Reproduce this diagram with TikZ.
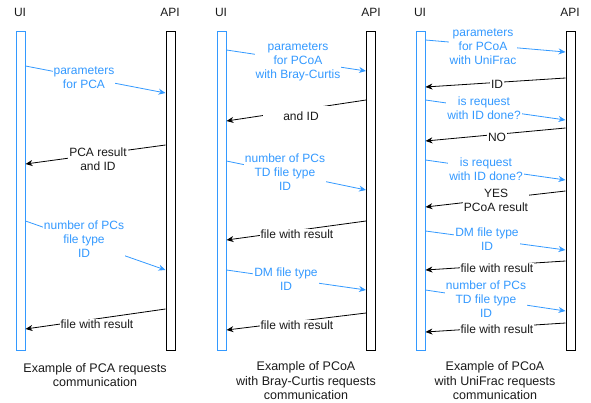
\documentclass[tikz,border=0pt]{standalone}
\usepackage{fontspec}
\setmainfont{Liberation Sans}
\usepackage{tikz}
\usetikzlibrary{arrows.meta}
\definecolor{uiblue}{HTML}{3399FF}
\definecolor{captxt}{HTML}{1A1A1A}

\begin{document}
\begin{tikzpicture}[x=1pt,y=-1pt,
  uibar/.style={draw=uiblue,line width=1pt,minimum width=9pt,minimum height=319pt,inner sep=0pt},
  apibar/.style={draw=black,line width=1pt,minimum width=9pt,minimum height=319pt,inner sep=0pt},
  req/.style={uiblue,line width=0.8pt,-{Stealth[length=7pt,width=6pt]}},
  resp/.style={black,line width=0.8pt,-{Stealth[length=7pt,width=6pt]}},
  reqlbl/.style={fill=white,text=uiblue,align=center,inner sep=1pt,font=\fontsize{12}{14}\selectfont},
  resplbl/.style={fill=white,text=captxt,align=center,inner sep=1pt,font=\fontsize{12}{14}\selectfont},
  head/.style={text=captxt,font=\fontsize{12}{14}\selectfont},
  caption/.style={text=captxt,align=center,font=\fontsize{12.5}{14.5}\selectfont}]
\useasboundingbox (0,0) rectangle (591,402);

% lifelines
\path (20.5,190.5) node (ui1) [uibar] {};
\path (170.5,190.5) node (api1) [apibar] {};
\path (221.5,190.5) node (ui2) [uibar] {};
\path (371,190.5) node (api2) [apibar] {};
\path (420.5,190.5) node (ui3) [uibar] {};
\path (570.5,190.5) node (api3) [apibar] {};

\path (20,12) node (uihead1) [head] {UI};
\path (170,12) node (apihead1) [head] {API};
\path (221,12) node (uihead2) [head] {UI};
\path (371,12) node (apihead2) [head] {API};
\path (420,12) node (uihead3) [head] {UI};
\path (570,12) node (apihead3) [head] {API};

% PCA
\coordinate (m1s) at (ui1.east |- 0,66);   \coordinate (m1e) at (api1.west |- 0,93);
\coordinate (m2s) at (api1.west |- 0,145); \coordinate (m2e) at (ui1.east |- 0,164);
\coordinate (m3s) at (ui1.east |- 0,221);  \coordinate (m3e) at (api1.west |- 0,270);
\coordinate (m4s) at (api1.west |- 0,309); \coordinate (m4e) at (ui1.east |- 0,329);
\draw [req] (m1s) to (m1e);
\draw [resp] (m2s) to (m2e);
\draw [req] (m3s) to (m3e);
\draw [resp] (m4s) to (m4e);
\path (84,78) node (m1) [reqlbl] {parameters\\for PCA};
\path (98,159) node (m2) [resplbl] {PCA result\\and ID};
\path (84,239) node (m3) [reqlbl] {number of PCs\\file type\\ID};
\path (97,324) node (m4) [resplbl] {file with result};

% PCoA with Bray-Curtis
\coordinate (m5s) at (ui2.east |- 0,50);    \coordinate (m5e) at (api2.west |- 0,71);
\coordinate (m6s) at (api2.west |- 0,100);  \coordinate (m6e) at (ui2.east |- 0,121);
\coordinate (m7s) at (ui2.east |- 0,161);   \coordinate (m7e) at (api2.west |- 0,190);
\coordinate (m8s) at (api2.west |- 0,221);  \coordinate (m8e) at (ui2.east |- 0,240);
\coordinate (m9s) at (ui2.east |- 0,270);   \coordinate (m9e) at (api2.west |- 0,290);
\coordinate (m10s) at (api2.west |- 0,313); \coordinate (m10e) at (ui2.east |- 0,330);
\draw [req] (m5s) to (m5e);
\draw [resp] (m6s) to (m6e);
\draw [req] (m7s) to (m7e);
\draw [resp] (m8s) to (m8e);
\draw [req] (m9s) to (m9e);
\draw [resp] (m10s) to (m10e);
\path (298,62) node (m5) [reqlbl] {parameters\\for PCoA\\with Bray-Curtis};
\path (301,114) node (m6) [resplbl,minimum width=76pt] {\mbox{}\\and ID};
\path (285,172) node (m7) [reqlbl] {number of PCs\\TD file type\\ID};
\path (297,234) node (m8) [resplbl] {file with result};
\path (286,279) node (m9) [reqlbl] {DM file type\\ID};
\path (297,325) node (m10) [resplbl] {file with result};

% PCoA with UniFrac
\coordinate (m11s) at (ui3.east |- 0,40);   \coordinate (m11e) at (api3.west |- 0,52);
\coordinate (m12s) at (api3.west |- 0,78);  \coordinate (m12e) at (ui3.east |- 0,87);
\coordinate (m13s) at (ui3.east |- 0,100);  \coordinate (m13e) at (api3.west |- 0,120);
\coordinate (m14s) at (api3.west |- 0,128); \coordinate (m14e) at (ui3.east |- 0,141);
\coordinate (m15s) at (ui3.east |- 0,160);  \coordinate (m15e) at (api3.west |- 0,180);
\coordinate (m16s) at (api3.west |- 0,191); \coordinate (m16e) at (ui3.east |- 0,207);
\coordinate (m17s) at (ui3.east |- 0,231);  \coordinate (m17e) at (api3.west |- 0,250);
\coordinate (m18s) at (api3.west |- 0,261); \coordinate (m18e) at (ui3.east |- 0,270);
\coordinate (m19s) at (ui3.east |- 0,290);  \coordinate (m19e) at (api3.west |- 0,311);
\coordinate (m20s) at (api3.west |- 0,323); \coordinate (m20e) at (ui3.east |- 0,332);
\draw [req] (m11s) to (m11e);
\draw [resp] (m12s) to (m12e);
\draw [req] (m13s) to (m13e);
\draw [resp] (m14s) to (m14e);
\draw [req] (m15s) to (m15e);
\draw [resp] (m16s) to (m16e);
\draw [req] (m17s) to (m17e);
\draw [resp] (m18s) to (m18e);
\draw [req] (m19s) to (m19e);
\draw [resp] (m20s) to (m20e);
\path (483,47) node (m11) [reqlbl] {parameters\\for PCoA\\with UniFrac};
\path (497,84) node (m12) [resplbl] {ID};
\path (484,108) node (m13) [reqlbl] {is request\\with ID done?};
\path (497,137) node (m14) [resplbl] {NO};
\path (486,169) node (m15) [reqlbl] {is request\\with ID done?};
\path (496,200) node (m16) [resplbl] {YES\\PCoA result};
\path (487,239) node (m17) [reqlbl] {DM file type\\ID};
\path (497,268) node (m18) [resplbl] {file with result};
\path (486,299) node (m19) [reqlbl] {number of PCs\\TD file type\\ID};
\path (497,329) node (m20) [resplbl] {file with result};

% captions
\path (95,375) node (cap1) [caption] {Example of PCA requests\\communication};
\path (306,381) node (cap2) [caption] {Example of PCoA\\with Bray-Curtis requests\\communication};
\path (495,381) node (cap3) [caption] {Example of PCoA\\with UniFrac requests\\communication};
\end{tikzpicture}
\end{document}
